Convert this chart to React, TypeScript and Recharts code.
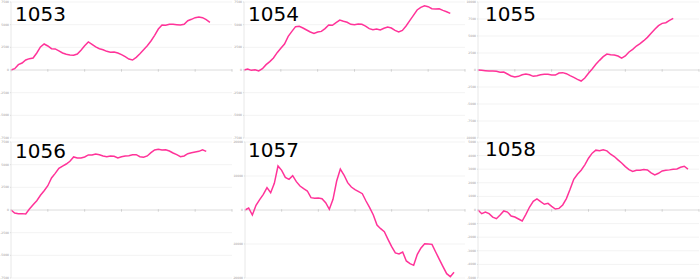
import React from 'react';
import { LineChart, Line, XAxis, YAxis, CartesianGrid, ReferenceLine } from 'recharts';

const panelIds = ['1053', '1054', '1055', '1056', '1057', '1058'];

const values1053 = [0, 147, 588, 772, 1100, 1250, 1320, 1875, 2540, 2870, 2650, 2350, 2320, 2100, 1875, 1730, 1650, 1620, 1760, 2170, 2680, 3090, 2830, 2540, 2350, 2240, 2060, 1950, 1990, 1875, 1690, 1470, 1210, 1100, 1400, 1800, 2240, 2680, 3200, 3820, 4520, 4960, 4930, 5040, 5040, 5000, 4960, 5040, 5440, 5590, 5770, 5850, 5770, 5550, 5260];
const values1054 = [0, 110, -37, 37, -100, 150, 590, 920, 1320, 1910, 2390, 2870, 3710, 4260, 4780, 4820, 4630, 4410, 4190, 4040, 4190, 4260, 4560, 4960, 4930, 5220, 5510, 5370, 5260, 5040, 5000, 5070, 5040, 4850, 4560, 4450, 4520, 4410, 4600, 4740, 4630, 4370, 4190, 4370, 4850, 5440, 6030, 6620, 6910, 7090, 6980, 6760, 6730, 6760, 6580, 6430, 6250];
const values1055 = [0, -50, -100, -150, -150, -200, -340, -300, -590, -880, -1030, -930, -690, -590, -690, -930, -830, -690, -640, -640, -740, -740, -440, -390, -540, -830, -1080, -1370, -1620, -1180, -490, 150, 830, 1420, 1960, 2350, 2250, 2200, 2060, 1760, 2060, 2650, 3040, 3530, 3870, 4310, 4800, 5390, 5980, 6520, 6860, 6960, 7300, 7600];
const values1056 = [0, -330, -400, -400, -440, 110, 590, 1030, 1620, 2130, 2680, 3530, 4040, 4600, 4850, 5070, 5370, 5850, 5730, 5730, 5850, 6070, 6070, 6180, 6100, 5960, 5880, 5960, 5920, 5730, 5880, 5960, 5990, 6100, 6100, 5880, 5810, 5960, 6320, 6620, 6690, 6620, 6650, 6510, 6290, 6100, 5880, 5960, 6210, 6320, 6400, 6470, 6650, 6470];
const values1057 = [0, 590, -1470, 1370, 3040, 4610, 6570, 5100, 7840, 12940, 11660, 9600, 9020, 10100, 8330, 7060, 6270, 5590, 3630, 3430, 3530, 3330, 2160, 200, 3140, 8530, 12050, 10290, 8040, 6760, 5980, 5390, 4800, 2650, 690, -1470, -4410, -5490, -6370, -8620, -10780, -12640, -12940, -12350, -14990, -15780, -16270, -13030, -11170, -9900, -10000, -10100, -12350, -14500, -16660, -18720, -19600, -18300];
const values1058 = [0, -270, -150, -270, -520, -640, -370, -70, -150, -440, -520, -660, -810, -320, 220, 640, 810, 610, 420, 490, 270, 70, 120, 370, 840, 1520, 2260, 2630, 2920, 3320, 3810, 4180, 4400, 4350, 4420, 4350, 4100, 3930, 3690, 3460, 3190, 2970, 2830, 2920, 2920, 2970, 2950, 2730, 2580, 2700, 2870, 2920, 2950, 3000, 3020, 3140, 3220, 3000];

const xTicks = [0, 10, 20, 30, 40, 50, 60];
const yTicks7500 = [-7500, -5000, -2500, 0, 2500, 5000, 7500];
const yTicks10000 = [-10000, -7500, -5000, -2500, 0, 2500, 5000, 7500, 10000];
const yTicks20000 = [-20000, -10000, 0, 10000, 20000];
const yTicks5000 = [-5000, -4000, -3000, -2000, -1000, 0, 1000, 2000, 3000, 4000, 5000];

const panelValues = [values1053, values1054, values1055, values1056, values1057, values1058];
const panelTicks = [yTicks7500, yTicks7500, yTicks10000, yTicks7500, yTicks20000, yTicks5000];

const layout = [
  { left: 0, top: 0, width: 233, axisW: 11, titleLeft: 15, titleTop: 4 },
  { left: 233, top: 0, width: 233, axisW: 11, titleLeft: 15, titleTop: 4 },
  { left: 466, top: 0, width: 234, axisW: 12, titleLeft: 19, titleTop: 4 },
  { left: 0, top: 140, width: 233, axisW: 11, titleLeft: 15, titleTop: 1 },
  { left: 233, top: 140, width: 233, axisW: 12, titleLeft: 15, titleTop: 0 },
  { left: 466, top: 140, width: 234, axisW: 12, titleLeft: 19, titleTop: -1 },
];

const LINE_COLOR = '#ff3399';

function Panel({ idx }: { idx: number }) {
  const vals = panelValues[idx];
  const ticks = panelTicks[idx];
  const L = layout[idx];
  const data = vals.map((v, i) => ({ x: i, v }));
  const yMin = ticks[0];
  const yMax = ticks[ticks.length - 1];
  const tickLen = (yMax - yMin) * 0.012;
  return (
    <div style={{ position: 'absolute', left: L.left, top: L.top, width: L.width, height: 140 }}>
      <LineChart width={L.width} height={140} data={data} margin={{ top: 2, right: 1, bottom: 2, left: 0 }}>
        <CartesianGrid vertical={false} stroke="#f3f3f3" />
        <XAxis dataKey="x" type="number" domain={[0, 60]} ticks={xTicks} hide />
        <YAxis
          type="number"
          domain={[yMin, yMax]}
          ticks={ticks}
          interval={0}
          width={L.axisW}
          tick={{ fontSize: 3, fill: '#9a9a9a', fontFamily: 'DejaVu Sans' }}
          tickSize={1}
          tickMargin={1}
          axisLine={{ stroke: '#e8e8e8' }}
          tickLine={{ stroke: '#dddddd' }}
        />
        <ReferenceLine y={0} stroke="#e2e2e2" />
        {xTicks.map((t) => (
          <ReferenceLine
            key={t}
            segment={[{ x: t, y: tickLen * 0.5 }, { x: t, y: -tickLen }]}
            stroke="#cfcfcf"
          />
        ))}
        <Line
          type="linear"
          dataKey="v"
          stroke={LINE_COLOR}
          strokeWidth={1.5}
          dot={false}
          isAnimationActive={false}
        />
      </LineChart>
      <div
        style={{
          position: 'absolute',
          left: L.titleLeft,
          top: L.titleTop,
          fontFamily: 'DejaVu Sans',
          fontSize: 20,
          lineHeight: '20px',
          color: '#000',
        }}
      >
        {panelIds[idx]}
      </div>
    </div>
  );
}

export default function App() {
  return (
    <div style={{ position: 'absolute', left: 0, top: 0, width: 700, height: 280, background: '#fff', overflow: 'hidden' }}>
      {panelIds.map((_, i) => (
        <Panel key={i} idx={i} />
      ))}
    </div>
  );
}
